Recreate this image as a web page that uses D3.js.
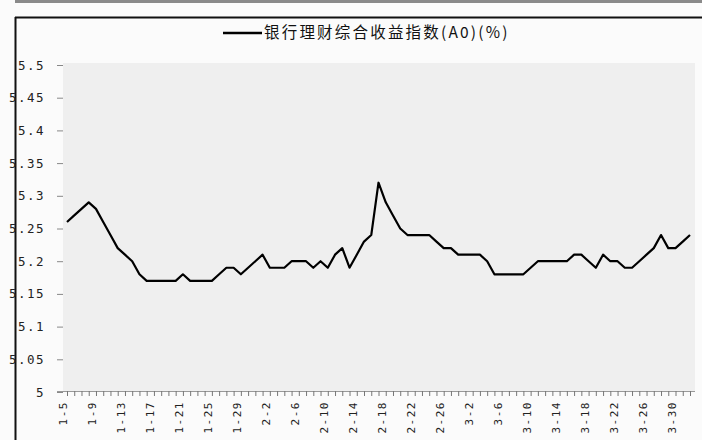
<!DOCTYPE html>
<html>
<head>
<meta charset="utf-8">
<script src="https://d3js.org/d3.v7.min.js"></script>
<style>
  body { margin: 0; background: #fbfbfb; }
  svg { display: block; }
</style>
</head>
<body>
<div id="chart"></div>
<script>
// categories (daily)
const dates = [
    "1-5","1-6","1-7","1-8","1-9","1-10","1-11","1-12","1-13","1-14","1-15","1-16","1-17","1-18","1-19","1-20",
    "1-21","1-22","1-23","1-24","1-25","1-26","1-27","1-28","1-29","1-30","1-31",
    "2-1","2-2","2-3","2-4","2-5","2-6","2-7","2-8","2-9","2-10","2-11","2-12","2-13","2-14","2-15","2-16",
    "2-17","2-18","2-19","2-20","2-21","2-22","2-23","2-24","2-25","2-26","2-27","2-28",
    "3-1","3-2","3-3","3-4","3-5","3-6","3-7","3-8","3-9","3-10","3-11","3-12","3-13","3-14","3-15","3-16",
    "3-17","3-18","3-19","3-20","3-21","3-22","3-23","3-24","3-25","3-26","3-27","3-28","3-29","3-30","3-31",
    "4-1"
];
// 银行理财综合收益指数 values
const values = [
    5.26, 5.27, 5.28, 5.29, 5.28, 5.26, 5.24, 5.22, 5.21, 5.20, 5.18, 5.17, 5.17, 5.17, 5.17, 5.17,
    5.18, 5.17, 5.17, 5.17, 5.17, 5.18, 5.19, 5.19, 5.18, 5.19, 5.20, 5.21, 5.19, 5.19, 5.19, 5.20,
    5.20, 5.20, 5.19, 5.20, 5.19, 5.21, 5.22, 5.19, 5.21, 5.23, 5.24, 5.32, 5.29, 5.27, 5.25, 5.24,
    5.24, 5.24, 5.24, 5.23, 5.22, 5.22, 5.21, 5.21, 5.21, 5.21, 5.20, 5.18, 5.18, 5.18, 5.18, 5.18,
    5.19, 5.20, 5.20, 5.20, 5.20, 5.20, 5.21, 5.21, 5.20, 5.19, 5.21, 5.20, 5.20, 5.19, 5.19, 5.20,
    5.21, 5.22, 5.24, 5.22, 5.22, 5.23, 5.24
];
// y axis tick labels
const yTicks = [5, 5.05, 5.1, 5.15, 5.2, 5.25, 5.3, 5.35, 5.4, 5.45, 5.5];
const seriesName = "银行理财综合收益指数(A0)(%)";

const w = 702;
const h = 440;

const svg = d3.select("#chart").append("svg")
    .attr("width", w)
    .attr("height", h);

// frame lines
svg.append("rect").attr("x", 15).attr("y", 0).attr("width", w - 15).attr("height", 3).attr("fill", "#8a8a8a");
svg.append("line").attr("x1", 15).attr("x2", w).attr("y1", 17.5).attr("y2", 17.5).attr("stroke", "#111").attr("stroke-width", 2);
svg.append("line").attr("x1", 15.5).attr("x2", 15.5).attr("y1", 17).attr("y2", h).attr("stroke", "#111").attr("stroke-width", 2);

// plot area
const plotLeft = 63, plotRight = 695, plotTop = 63, plotBottom = 391;
svg.append("rect")
    .attr("x", plotLeft).attr("y", plotTop)
    .attr("width", plotRight - plotLeft).attr("height", plotBottom - plotTop)
    .attr("fill", "#efefef");

// scales
const xScale = d3.scalePoint().domain(d3.range(dates.length)).range([67, 690]);
const yScale = d3.scaleLinear().domain([5, 5.5]).range([392, 65]);

// y axis
const yAxis = d3.axisLeft(yScale).tickValues(yTicks).tickSize(6).tickPadding(12)
    .tickFormat(d => String(+d.toFixed(2)));
const gy = svg.append("g").attr("transform", "translate(" + plotLeft + ",0)").call(yAxis);
gy.select(".domain").remove();
gy.selectAll(".tick line").attr("stroke", "#888");
gy.selectAll(".tick text")
    .style("font-family", "DejaVu Sans Mono, monospace")
    .style("font-size", "12.5px")
    .style("letter-spacing", "1.5px")
    .attr("fill", "#222");

// x axis
const xAxis = d3.axisBottom(xScale).tickSize(5).tickSizeOuter(0)
    .tickFormat((d, i) => i % 4 === 0 ? dates[i] : "");
const gx = svg.append("g").attr("transform", "translate(0," + plotBottom + ")").call(xAxis);
gx.select(".domain").attr("stroke", "#999").attr("d", "M57,0.5H" + plotRight);
gx.selectAll(".tick line").attr("stroke", "#777");
gx.selectAll(".tick text")
    .attr("transform", "rotate(-90)")
    .attr("text-anchor", "end")
    .attr("x", -10)
    .attr("y", -4)
    .attr("dy", "0.35em")
    .style("font-family", "DejaVu Sans Mono, monospace")
    .style("font-size", "11px")
    .style("letter-spacing", "1.5px")
    .attr("fill", "#222");

// line
const line = d3.line()
    .x((d, i) => xScale(i))
    .y(d => yScale(d));
svg.append("path")
    .datum(values)
    .attr("d", line)
    .attr("fill", "none")
    .attr("stroke", "#000")
    .attr("stroke-width", 2.2)
    .attr("stroke-linejoin", "round");

// legend
svg.append("line").attr("x1", 223).attr("x2", 262).attr("y1", 33).attr("y2", 33)
    .attr("stroke", "#000").attr("stroke-width", 2.5);
svg.append("text").attr("x", 264).attr("y", 38).text(seriesName)
    .style("font-family", "Noto Sans CJK SC, sans-serif")
    .style("font-size", "15.5px")
    .style("letter-spacing", "2.2px")
    .attr("fill", "#111");
</script>
</body>
</html>
